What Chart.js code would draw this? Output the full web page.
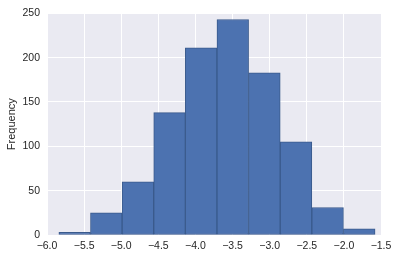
<!DOCTYPE html>
<html>
<head>
<meta charset="utf-8">
<script src="https://cdn.jsdelivr.net/npm/chart.js@4.4.1/dist/chart.umd.min.js"></script>
<style>
  html, body { margin: 0; padding: 0; background: #ffffff; }
  #wrap { width: 398px; height: 258px; position: relative; }
</style>
</head>
<body>
<div id="wrap"><canvas id="c" width="398" height="258"></canvas></div>
<script>
// Histogram bin edges (x) and counts (y)
const binEdges = [-5.84, -5.414, -4.988, -4.562, -4.136, -3.71, -3.284, -2.858, -2.432, -2.006, -1.58];
const counts = [3, 25, 60, 138, 211, 243, 183, 105, 31, 7];
const xTicks = [-6.0, -5.5, -5.0, -4.5, -4.0, -3.5, -3.0, -2.5, -2.0, -1.5];
const yTicks = [0, 50, 100, 150, 200, 250];
const yLabel = 'Frequency';

const points = counts.map((c, i) => ({ x: (binEdges[i] + binEdges[i + 1]) / 2, y: c }));

const fmt = v => (v < 0 ? '\u2212' : '') + Math.abs(v).toFixed(1);

const bgPlugin = {
  id: 'bgPlugin',
  beforeDraw(chart) {
    const { ctx, chartArea: a } = chart;
    ctx.save();
    ctx.fillStyle = '#EAEAF2';
    ctx.fillRect(a.left, a.top, a.right - a.left, a.bottom - a.top);
    ctx.restore();
  }
};

const tickFont = { family: 'Liberation Sans, Arial, sans-serif', size: 10.5 };

new Chart(document.getElementById('c'), {
  type: 'bar',
  data: {
    datasets: [{
      data: points,
      backgroundColor: '#4C72B0',
      borderColor: '#3A5A8C',
      borderWidth: 1,
      borderSkipped: false,
      barPercentage: 1,
      categoryPercentage: 1
    }]
  },
  options: {
    responsive: false,
    animation: false,
    layout: { padding: { top: 13, right: 17, left: 0, bottom: 0 } },
    plugins: { legend: { display: false }, tooltip: { enabled: false } },
    scales: {
      x: {
        type: 'linear',
        min: xTicks[0],
        max: xTicks[xTicks.length - 1],
        offset: false,
        grid: { color: '#ffffff', lineWidth: 1, drawTicks: false, offset: false },
        border: { display: false },
        afterBuildTicks(scale) { scale.ticks = xTicks.map(v => ({ value: v })); },
        afterFit(scale) { scale.height = 23; },
        ticks: { color: '#262626', font: tickFont, padding: 5, maxRotation: 0, callback: fmt }
      },
      y: {
        min: yTicks[0],
        max: yTicks[yTicks.length - 1],
        grid: { color: '#ffffff', lineWidth: 1, drawTicks: false },
        border: { display: false },
        afterBuildTicks(scale) { scale.ticks = yTicks.map(v => ({ value: v })); },
        afterFit(scale) { scale.width = 47; },
        ticks: { color: '#262626', font: tickFont, padding: 7 },
        title: { display: true, text: yLabel, color: '#262626', font: { family: 'Liberation Sans, Arial, sans-serif', size: 11 }, padding: { top: 5, bottom: 4 } }
      }
    }
  },
  plugins: [bgPlugin]
});
</script>
</body>
</html>
